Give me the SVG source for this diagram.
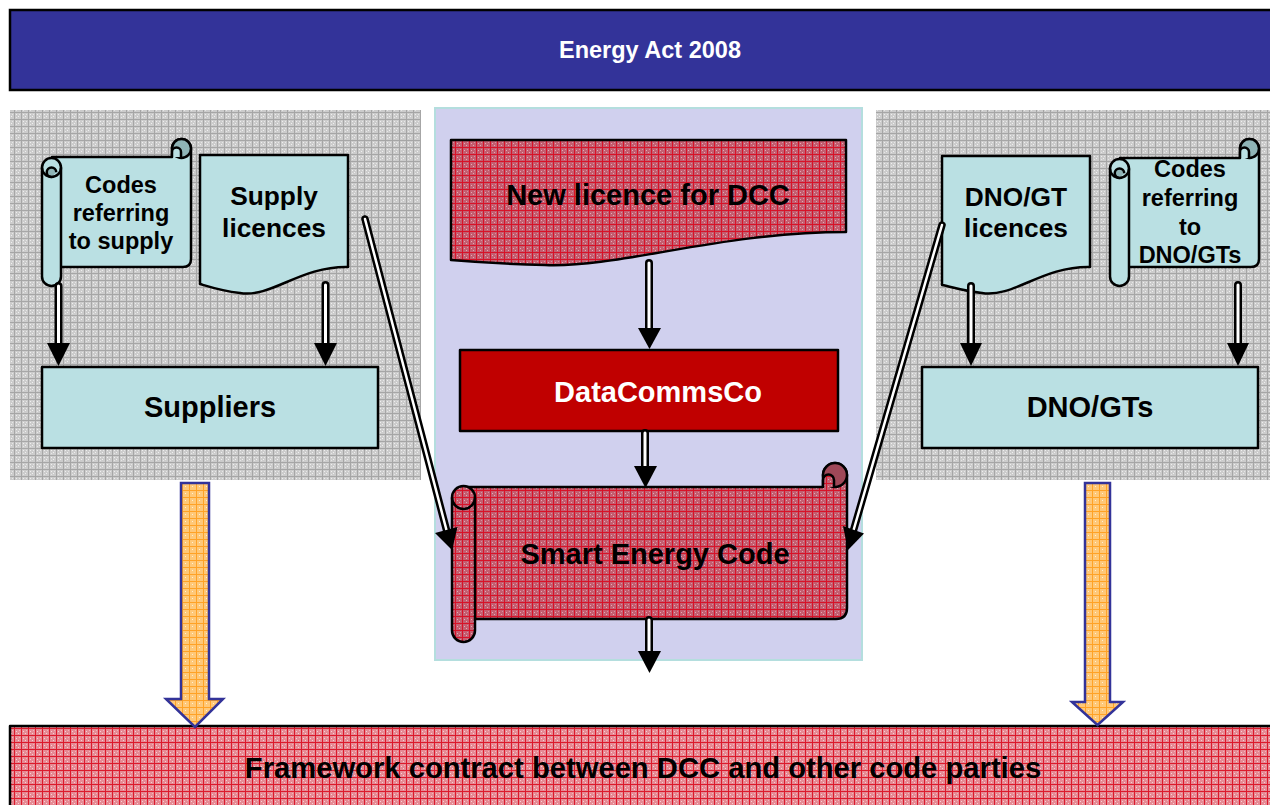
<svg xmlns="http://www.w3.org/2000/svg" width="1270" height="805" viewBox="0 0 1270 805">
<defs>
<pattern id="pGrey" width="7" height="7" patternUnits="userSpaceOnUse">
<rect width="7" height="7" fill="#cccccc"/>
<rect width="7" height="1" fill="#a6a6a6"/><rect width="1" height="7" fill="#a6a6a6"/>
<rect x="2" y="2" width="1" height="1" fill="#efefef"/><rect x="4" y="4" width="1" height="1" fill="#efefef"/>
<rect x="5" y="2" width="1" height="1" fill="#e6e6e6"/><rect x="2" y="5" width="1" height="1" fill="#e6e6e6"/>
</pattern>
<pattern id="pRed" width="7" height="7" patternUnits="userSpaceOnUse">
<rect width="7" height="7" fill="#c45e70"/>
<rect width="7" height="1" fill="#d81228"/><rect width="1" height="7" fill="#d81228"/>
<rect x="2" y="3" width="1" height="1" fill="#e6a8b4"/><rect x="4" y="5" width="1" height="1" fill="#e6a8b4"/><rect x="5" y="2" width="1" height="1" fill="#d890a0"/>
</pattern>
<pattern id="pPink" width="7" height="7" patternUnits="userSpaceOnUse">
<rect width="7" height="7" fill="#e68a94"/>
<rect width="7" height="1" fill="#dc1a2c"/><rect width="1" height="7" fill="#dc1a2c"/>
<rect x="2" y="3" width="1" height="1" fill="#f8d0d4"/><rect x="4" y="5" width="1" height="1" fill="#f8d0d4"/><rect x="5" y="2" width="1" height="1" fill="#f2b4ba"/>
</pattern>
<pattern id="pOrange" width="7" height="7" patternUnits="userSpaceOnUse">
<rect width="7" height="7" fill="#ffc878"/>
<rect width="7" height="1" fill="#ffa226"/><rect width="1" height="7" fill="#ffa226"/>
<rect x="3" y="3" width="1" height="1" fill="#fff0d0"/>
</pattern>
</defs>
<style>
.t{font-family:"Liberation Sans",Arial,sans-serif;font-weight:bold;text-anchor:middle;fill:#000}
.w{fill:#fff}
.ln{stroke:#000;stroke-width:2.5;stroke-linejoin:round}
.teal{fill:#bae0e3}
.tealD{fill:#8fb4b6}
.redD{fill:#a04858}
.so{stroke:#000;fill:none;stroke-linecap:round}
.si{stroke:#fff;fill:none;stroke-linecap:round}
.orng{fill:url(#pOrange);stroke:#333399;stroke-width:2.5;stroke-linejoin:miter}
</style>
<rect width="1270" height="805" fill="#fff"/>

<g id="energy-act">
<rect x="10" y="10" width="1270" height="80" fill="#333399" stroke="#000" stroke-width="2.5"/>
<text class="t w" x="650" y="58" font-size="23.5">Energy Act 2008</text>
</g>

<g id="panel-left"><rect x="10" y="110" width="411" height="370" fill="url(#pGrey)"/></g>
<g id="panel-right"><rect x="876" y="110" width="400" height="370" fill="url(#pGrey)"/></g>
<g id="panel-center"><rect x="435" y="108" width="427" height="552" fill="#d0d0ee" stroke="#b4dede" stroke-width="2"/></g>

<g id="codes-supply">
<path class="ln teal" d="M52,157 H172 V148.5 A9.5,9.5 0 0 1 191,148.5 V259 Q191,267 183,267 H52 Z"/>
<circle class="ln tealD" cx="181.5" cy="148.5" r="9.5"/>
<path class="ln teal" d="M172,157 V152 A4.5,4.5 0 0 1 181,152 V157"/>
<rect class="ln teal" x="42" y="158" width="19" height="128" rx="9.5"/>
<path class="ln tealD" d="M51.5,177 A4.75,4.75 0 0 1 51.5,167.5 A4.75,4.75 0 0 1 56.25,172.25"/>
<path class="ln" fill="none" d="M42,167.5 A9.5,9.5 0 0 0 61,167.5"/>
<text class="t" x="121" y="193" font-size="23.5">Codes</text>
<text class="t" x="121" y="221" font-size="23.5">referring</text>
<text class="t" x="121" y="249" font-size="23.5">to supply</text>
</g>

<g id="supply-licences">
<path class="ln teal" d="M200,155 H348 V267 C300,266 272,298 240,293 C222,291 210,287 200,284 Z"/>
<text class="t" x="274" y="205" font-size="26.3">Supply</text>
<text class="t" x="274" y="237" font-size="26.3">licences</text>
</g>

<g id="suppliers">
<rect class="ln teal" x="42" y="367" width="336" height="81"/>
<text class="t" x="210" y="417" font-size="29">Suppliers</text>
</g>

<g id="dnogt-licences">
<path class="ln teal" d="M942,156 H1090 V267 C1042,266 1014,298 982,293 C964,291 952,287 942,285 Z"/>
<text class="t" x="1016" y="206" font-size="26.3">DNO/GT</text>
<text class="t" x="1016" y="237" font-size="26.3">licences</text>
</g>

<g id="codes-dnogt">
<path class="ln teal" d="M1120,158 H1240 V148.5 A9.5,9.5 0 0 1 1259,148.5 V259 Q1259,267 1251,267 H1120 Z"/>
<circle class="ln tealD" cx="1249.5" cy="148.5" r="9.5"/>
<path class="ln teal" d="M1240,158 V152 A4.5,4.5 0 0 1 1249,152 V158"/>
<rect class="ln teal" x="1110" y="159" width="19" height="127" rx="9.5"/>
<path class="ln tealD" d="M1119.5,178 A4.75,4.75 0 0 1 1119.5,168.5 A4.75,4.75 0 0 1 1124.25,173.25"/>
<path class="ln" fill="none" d="M1110,168.5 A9.5,9.5 0 0 0 1129,168.5"/>
<text class="t" x="1190" y="177" font-size="23.5">Codes</text>
<text class="t" x="1190" y="206" font-size="23.5">referring</text>
<text class="t" x="1190" y="235" font-size="23.5">to</text>
<text class="t" x="1190" y="263" font-size="23.5">DNO/GTs</text>
</g>

<g id="dnogts">
<rect class="ln teal" x="922" y="367" width="336" height="81"/>
<text class="t" x="1090" y="417" font-size="29">DNO/GTs</text>
</g>

<g id="new-licence">
<path class="ln" fill="url(#pRed)" d="M451,140 H846 V232 C720,232 620,268 545,265 C505,264 475,262 451,260 Z"/>
<text class="t" x="648" y="205" font-size="29">New licence for DCC</text>
</g>

<g id="datacommsco">
<rect class="ln" fill="#c00000" x="460" y="350" width="378" height="81"/>
<text class="t w" x="658" y="402" font-size="29">DataCommsCo</text>
</g>

<g id="smart-energy-code">
<path class="ln" fill="url(#pRed)" d="M463,487 H823 V475 A12,12 0 0 1 847,475 V608 Q847,619 836,619 H463 Z"/>
<circle class="ln redD" cx="835" cy="475" r="12"/>
<path class="ln" fill="url(#pRed)" d="M823,487 V480 A5.5,5.5 0 0 1 834,480 V487"/>
<rect class="ln" fill="url(#pRed)" x="452" y="486" width="23" height="156" rx="11.5"/>
<path class="ln" fill="none" d="M452,497.5 A11.5,11.5 0 0 0 475,497.5"/>
<text class="t" x="655" y="564" font-size="29">Smart Energy Code</text>
</g>

<g id="framework">
<rect class="ln" fill="url(#pPink)" x="10" y="726" width="1270" height="90"/>
<text class="t" x="643" y="778" font-size="29.2">Framework contract between DCC and other code parties</text>
</g>

<g id="connectors">
<path class="orng" d="M181,483 H209 V699 H223 L195,727 L166,699 H181 Z"/>
<path class="orng" d="M1085,483 H1110 V702 H1123 L1097.5,725 L1072,702 H1085 Z"/>

<line class="so" x1="58.5" y1="286" x2="58.5" y2="345" stroke-width="8"/>
<line class="so" x1="325.5" y1="285" x2="325.5" y2="345" stroke-width="8"/>
<line class="so" x1="971" y1="286" x2="971" y2="345" stroke-width="8"/>
<line class="so" x1="1238" y1="285" x2="1238" y2="345" stroke-width="8"/>
<line class="so" x1="649" y1="263" x2="649" y2="330" stroke-width="8"/>
<line class="so" x1="645" y1="433" x2="645" y2="468" stroke-width="8"/>
<line class="so" x1="649" y1="620" x2="649" y2="653" stroke-width="8"/>
<line class="so" x1="365" y1="219" x2="447" y2="532" stroke-width="7.5"/>
<line class="so" x1="942" y1="225" x2="853" y2="532" stroke-width="7.5"/>

<line class="si" x1="58.5" y1="286" x2="58.5" y2="347" stroke-width="3"/>
<line class="si" x1="325.5" y1="285" x2="325.5" y2="347" stroke-width="3"/>
<line class="si" x1="971" y1="286" x2="971" y2="347" stroke-width="3"/>
<line class="si" x1="1238" y1="285" x2="1238" y2="347" stroke-width="3"/>
<line class="si" x1="649" y1="263" x2="649" y2="332" stroke-width="3"/>
<line class="si" x1="645" y1="433" x2="645" y2="470" stroke-width="3"/>
<line class="si" x1="649" y1="620" x2="649" y2="655" stroke-width="3"/>
<line class="si" x1="365" y1="219" x2="447" y2="532" stroke-width="2.5"/>
<line class="si" x1="942" y1="225" x2="853" y2="532" stroke-width="2.5"/>

<g fill="#000">
<polygon points="47,343 70,343 58.5,366"/>
<polygon points="314,343 337,343 325.5,366"/>
<polygon points="960,343 982,343 971,366"/>
<polygon points="1227,343 1249,343 1238,366"/>
<polygon points="638,328 661,328 649.5,349"/>
<polygon points="634,466 657,466 645.5,488"/>
<polygon points="638,651 661,651 649.5,673"/>
<polygon points="457.5,527 435,533 452,550"/>
<polygon points="843,526 864,533.5 848,550"/>
</g>
</g>
</svg>
